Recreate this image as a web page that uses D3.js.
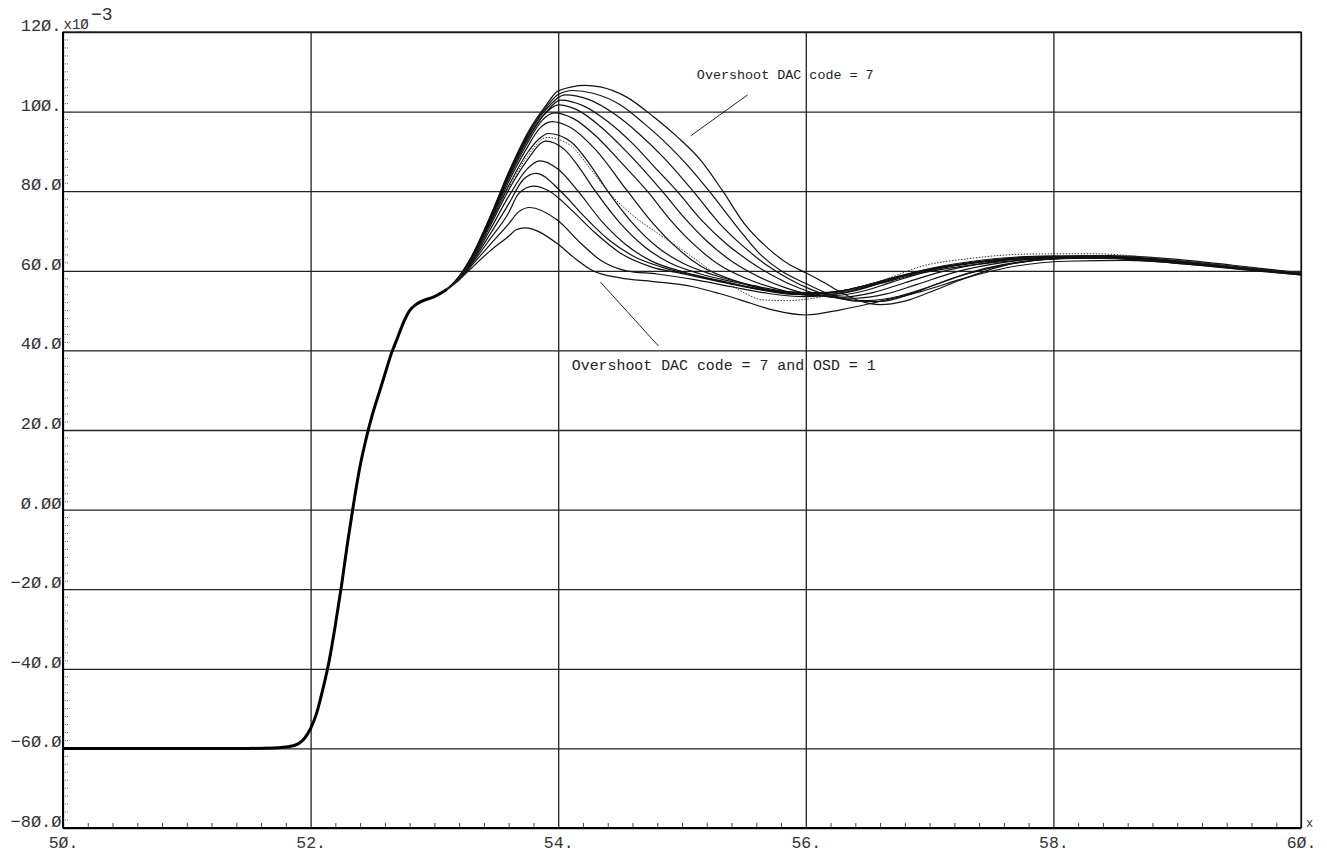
<!DOCTYPE html>
<html><head><meta charset="utf-8">
<script src="https://cdn.jsdelivr.net/npm/d3@7"></script>
<style>body{margin:0;background:#fff} svg{display:block;background:#fff}</style>
</head><body><svg id="c" width="1327" height="854"></svg>
<script>
// ---- axis ticks ----
const xTicks = [50, 52, 54, 56, 58, 60];
const xTickLabels = ["5Ø.", "52.", "54.", "56.", "58.", "6Ø."];
const yTicks = [-80, -60, -40, -20, 0, 20, 40, 60, 80, 100, 120];
const yTickLabels = ["−8Ø.Ø", "−6Ø.Ø", "−4Ø.Ø", "−2Ø.Ø", "Ø.ØØ", "2Ø.Ø", "4Ø.Ø", "6Ø.Ø", "8Ø.Ø", "1ØØ.", "12Ø."];

// ---- shared initial step (all curves coincide) ----
const sharedRise = [[50,-60],[51.5,-60],[51.7,-59.9],[51.85,-59.4],[51.95,-57.5],[52.0,-55],[52.05,-51],[52.1,-45],[52.15,-38],[52.2,-29],[52.25,-19],[52.3,-8],[52.35,2],[52.4,11],[52.45,18],[52.5,24],[52.55,29],[52.6,34],[52.65,39],[52.7,43],[52.75,47],[52.8,50],[52.85,51.5],[52.9,52.4],[53.0,53.5],[53.1,55.3]];

// ---- individual overshoot responses (x, value x1e-3) ----
const dac1 = [[53.2,58.6],[53.3,63.6],[53.45,73.6],[53.6,84.8],[53.75,94.5],[53.9,101.5],[54.0,105.2],[54.22,106.6],[54.34,106.2],[54.55,103.7],[54.77,98.7],[54.96,93.7],[55.15,87.8],[55.33,80],[55.5,72],[55.7,65.5],[55.87,61.5],[56.0,59.5],[56.15,57],[56.3,54.3],[56.45,52.3],[56.6,51.5],[56.8,52.4],[57.0,54.6],[57.25,57.7],[57.6,61.3],[58.0,63.0],[58.4,63.3],[58.8,62.4],[59.3,61.0],[59.7,59.8],[60.0,59.0]];
const dac2 = [[53.2,58.6],[53.3,63.5],[53.45,73.5],[53.6,84.6],[53.75,94.1],[53.9,101],[54.0,104.3],[54.12,105.3],[54.28,104.6],[54.5,101.7],[54.69,97.1],[54.9,91.2],[55.05,86.3],[55.22,80],[55.45,70.8],[55.63,64.2],[55.8,60],[56.0,56.8],[56.2,54],[56.4,52.4],[56.6,52.3],[56.85,54.2],[57.1,57.2],[57.45,60.6],[57.9,62.8],[58.3,63.3],[58.8,62.6],[59.3,61.2],[59.7,60],[60,59.1]];
const dac3 = [[53.2,58.5],[53.3,63.4],[53.45,73.3],[53.6,84.3],[53.75,93.7],[53.9,100.5],[54.06,104.2],[54.25,103],[54.45,99.5],[54.65,94.5],[54.85,88.5],[55.09,80],[55.3,72],[55.5,66],[55.68,61.5],[55.85,58.2],[56.05,55.2],[56.3,52.9],[56.5,52.5],[56.75,53.6],[57.0,56],[57.3,59.2],[57.7,62],[58.1,63.2],[58.6,63.2],[59.1,62],[59.6,60.3],[60,59.2]];
const dac4 = [[53.2,58.5],[53.3,63.3],[53.45,73.1],[53.6,84],[53.75,93.2],[53.9,99.8],[54.02,102.9],[54.2,101.5],[54.4,97.5],[54.6,92],[54.78,86],[54.96,80],[55.15,73],[55.35,67],[55.55,62.3],[55.72,59],[55.95,55.6],[56.2,53.4],[56.4,53.1],[56.65,54.2],[56.9,56.6],[57.2,59.6],[57.6,62.1],[58.0,63.3],[58.5,63.4],[59.0,62.3],[59.5,60.7],[60,59.3]];
const dac5 = [[53.2,58.5],[53.3,63.2],[53.45,72.9],[53.6,83.6],[53.75,92.7],[53.88,99],[54.0,101.7],[54.15,100.5],[54.35,96],[54.55,90],[54.7,85],[54.84,80],[55.0,74],[55.2,67.5],[55.42,62],[55.6,58.8],[55.85,55.6],[56.1,53.7],[56.3,53.4],[56.55,54.6],[56.8,57],[57.1,59.8],[57.5,62.2],[57.95,63.4],[58.45,63.5],[58.95,62.5],[59.45,60.9],[60,59.3]];
const dac6 = [[53.2,58.4],[53.3,63.1],[53.45,72.6],[53.6,83.1],[53.75,92],[53.87,97.8],[53.97,99.7],[54.12,98.3],[54.3,94],[54.5,87.5],[54.72,80],[54.9,73],[55.1,66.5],[55.3,61.5],[55.5,58.3],[55.75,55.6],[56.0,53.9],[56.2,53.7],[56.45,54.8],[56.7,57.2],[57.0,60],[57.4,62.3],[57.9,63.5],[58.4,63.6],[58.9,62.7],[59.4,61.1],[60,59.4]];
const dac7 = [[53.2,58.4],[53.3,63],[53.45,72.2],[53.6,82.4],[53.75,91],[53.85,95.8],[53.95,97.5],[54.1,96],[54.3,90.5],[54.56,80],[54.75,72.5],[54.95,66],[55.15,61.2],[55.4,57.8],[55.65,55.5],[55.9,54.1],[56.15,53.9],[56.4,55],[56.65,57.4],[56.95,60.2],[57.35,62.4],[57.85,63.6],[58.35,63.7],[58.85,62.8],[59.35,61.2],[60,59.4]];
const dac8 = [[53.2,58.3],[53.3,62.8],[53.45,71.8],[53.6,81.4],[53.75,89.6],[53.84,93],[53.92,94.5],[54.1,92.5],[54.25,87],[54.4,80],[54.6,72],[54.8,66],[55.0,62],[55.25,59],[55.55,56.5],[55.85,54.8],[56.15,54.5],[56.45,55.8],[56.75,58.3],[57.05,60.5],[57.45,62.4],[57.95,63.7],[58.45,63.8],[58.95,63],[59.45,61.4],[60,59.5]];
const dac9 = [[53.2,58.3],[53.3,62.6],[53.45,71.2],[53.6,80.3],[53.75,87.8],[53.9,92.6],[54.05,90.5],[54.18,85.5],[54.3,80],[54.5,72],[54.7,66],[54.9,62],[55.15,59.2],[55.45,57],[55.75,55],[56.05,54.3],[56.35,55.3],[56.65,57.8],[56.95,60.1],[57.35,62.1],[57.85,63.4],[58.35,63.6],[58.85,62.9],[59.35,61.4],[60,59.4]];
const dac10 = [[53.2,58.2],[53.3,62.3],[53.45,70.3],[53.6,78.7],[53.75,85.6],[53.85,87.6],[54.0,85.5],[54.16,80],[54.35,72.5],[54.55,66.5],[54.75,62.5],[55.0,59.8],[55.3,57.6],[55.6,55.6],[55.9,54.4],[56.2,54.6],[56.5,56.5],[56.8,59],[57.2,61.4],[57.7,63.1],[58.2,63.6],[58.7,63.1],[59.2,61.8],[59.7,60.2],[60,59.4]];
const dac11 = [[53.2,58.1],[53.3,62],[53.45,69.2],[53.6,76.8],[53.72,83],[53.82,84.5],[54.02,80],[54.2,74],[54.4,68],[54.6,63.8],[54.85,60.8],[55.1,58.8],[55.4,56.8],[55.7,55],[56.0,54.1],[56.3,55],[56.6,57.3],[56.9,59.7],[57.3,61.8],[57.8,63.2],[58.3,63.6],[58.8,63],[59.3,61.6],[59.7,60.2],[60,59.3]];
const dac12 = [[53.2,58],[53.3,61.7],[53.45,68],[53.6,74.6],[53.68,79.4],[53.8,81.3],[53.93,80],[54.1,75.5],[54.3,69.5],[54.5,64.5],[54.75,61],[55.0,59.3],[55.3,57.3],[55.6,55.4],[55.9,54.1],[56.2,54.4],[56.5,56.3],[56.8,58.9],[57.2,61.3],[57.7,62.9],[58.2,63.3],[58.7,62.8],[59.2,61.5],[59.7,60],[60,59.2]];
const dac13 = [[53.2,57.9],[53.3,61.3],[53.45,66.6],[53.6,71.8],[53.68,74.8],[53.77,75.9],[53.99,72.8],[54.18,67],[54.34,62.7],[54.55,60],[54.8,59.2],[55.1,57.8],[55.4,56],[55.7,54.3],[56.0,53.5],[56.3,54.5],[56.6,56.8],[56.9,59.2],[57.3,61.3],[57.8,62.8],[58.3,63.2],[58.8,62.6],[59.3,61.3],[59.7,60],[60,59.2]];
const dac7osd1 = [[53.2,57.7],[53.3,60.7],[53.45,65],[53.6,68.7],[53.66,70.3],[53.73,70.8],[53.99,66.9],[54.12,63.5],[54.28,60],[54.5,58.2],[54.77,57.3],[55.09,56],[55.3,54.3],[55.47,52.7],[55.73,50.2],[56.0,48.9],[56.28,50.2],[56.54,51.9],[56.92,54.7],[57.3,58.3],[57.7,61.2],[58.1,62.4],[58.6,62.6],[59.1,61.6],[59.6,60.2],[60,59]];
const dottedRun = [[53.2,58.3],[53.3,62.7],[53.45,71.5],[53.6,80.8],[53.75,88.7],[53.91,93.5],[54.1,91.5],[54.25,86],[54.43,79],[54.6,74],[54.8,69.5],[55.06,64],[55.3,58.5],[55.5,54.5],[55.65,52.7],[55.85,52.5],[56.1,53.3],[56.4,55.5],[56.7,58.5],[56.92,61],[57.3,63],[57.8,64.2],[58.3,64.3],[58.8,63.3],[59.3,61.6],[59.7,60.3],[60,59.6]];

const solidSeries = [dac1,dac2,dac3,dac4,dac5,dac6,dac7,dac8,dac9,dac10,dac11,dac12,dac13,dac7osd1];

// ---- annotations (data coords) ----
const notes = [
  {text:"Overshoot DAC code = 7", at:[55.12,108.2], line:[[55.53,104.2],[55.07,93.9]], size:13.4},
  {text:"Overshoot DAC code = 7 and OSD = 1", at:[54.11,35.1], line:[[54.34,57.2],[54.81,41.1]], size:14.9}
];

// ---- drawing ----
const FONT = "Liberation Mono, DejaVu Sans Mono, monospace";
const svg = d3.select("#c");
const x = d3.scaleLinear().domain([50,60]).range([63,1301]);
const y = d3.scaleLinear().domain([-80,120]).range([828,32]);
const W = x(60)-x(50), H = y(-80)-y(120);

// vertical grid + x labels
const gx = svg.append("g").attr("transform",`translate(0,${y(-80)})`)
  .call(d3.axisBottom(x).tickValues(xTicks).tickSize(-H).tickFormat((d,i)=>xTickLabels[i]));
gx.select(".domain").remove();
gx.selectAll("line").attr("stroke","#222").attr("stroke-width",1.3);
gx.selectAll("text").attr("y",20).attr("dy",0).attr("font-family",FONT)
  .attr("font-size",16.5).attr("fill","#333").attr("text-anchor","middle");

// minor x ticks
const minor = d3.range(50.2,60,0.2).filter(v=>Math.abs(v/2-Math.round(v/2))>1e-6);
const gm = svg.append("g").attr("transform",`translate(0,${y(-80)})`)
  .call(d3.axisBottom(x).tickValues(minor).tickSize(-5).tickFormat(""));
gm.select(".domain").remove();
gm.selectAll("line").attr("stroke","#444").attr("stroke-width",1);

// horizontal grid + y labels
const gy = svg.append("g").attr("transform",`translate(${x(50)},0)`)
  .call(d3.axisLeft(y).tickValues(yTicks).tickSize(-W).tickFormat((d,i)=>yTickLabels[i]));
gy.select(".domain").remove();
gy.selectAll("line").attr("stroke","#222").attr("stroke-width",1.3);
gy.selectAll("text").attr("x",-1.5).attr("dy",0).attr("y",-1.5)
  .attr("font-family",FONT).attr("font-size",17).attr("fill","#333");

// minor y dotted marks
const yMinor = d3.range(-78,120,2).filter(v=>v%20!==0);
svg.append("g").selectAll("line").data(yMinor).join("line")
  .attr("x1",x(50)+2).attr("x2",x(50)+6).attr("y1",d=>y(d)).attr("y2",d=>y(d))
  .attr("stroke","#666").attr("stroke-width",1).attr("stroke-dasharray","1,1");

// frame
svg.append("rect").attr("x",x(50)).attr("y",y(120)).attr("width",W).attr("height",H)
  .attr("fill","none").attr("stroke","#111").attr("stroke-width",1.2);
svg.append("line").attr("x1",x(50)).attr("x2",x(50)).attr("y1",y(120)).attr("y2",y(-80)).attr("stroke","#000").attr("stroke-width",2);
svg.append("line").attr("x1",x(50)).attr("x2",x(60)).attr("y1",y(-80)).attr("y2",y(-80)).attr("stroke","#000").attr("stroke-width",2);

// unit labels
svg.append("text").attr("x",x(50)+0.5).attr("y",y(120)-3).attr("font-family",FONT)
  .attr("font-size",14).attr("fill","#333").text("x1Ø");
svg.append("text").attr("x",x(50)+28).attr("y",y(120)-12).attr("font-family",FONT)
  .attr("font-size",18).attr("fill","#333").text("−3");
svg.append("text").attr("x",x(60)+5).attr("y",y(-80)-1).attr("font-family",FONT)
  .attr("font-size",12).attr("fill","#333").text("x");

// curves
const line = d3.line().x(d=>x(d[0])).y(d=>y(d[1])).curve(d3.curveMonotoneX);
const cg = svg.append("g");
cg.append("path").attr("d",line(sharedRise)).attr("fill","none").attr("stroke","#000").attr("stroke-width",3);
cg.selectAll("path.s").data(solidSeries).join("path").attr("class","s")
  .attr("d",d=>line([sharedRise[sharedRise.length-1]].concat(d)))
  .attr("fill","none").attr("stroke","#111").attr("stroke-width",1.2);
cg.append("path").attr("d",line([sharedRise[sharedRise.length-1]].concat(dottedRun)))
  .attr("fill","none").attr("stroke","#333").attr("stroke-width",1).attr("stroke-dasharray","1.5,1.5");

// annotations
const ag = svg.append("g");
notes.forEach(n=>{
  ag.append("line").attr("x1",x(n.line[0][0])).attr("y1",y(n.line[0][1]))
    .attr("x2",x(n.line[1][0])).attr("y2",y(n.line[1][1])).attr("stroke","#222").attr("stroke-width",1);
  ag.append("text").attr("x",x(n.at[0])).attr("y",y(n.at[1]))
    .attr("font-family","Liberation Mono, Courier New, monospace").attr("font-size",n.size)
    .attr("fill","#222").text(n.text);
});
</script></body></html>
